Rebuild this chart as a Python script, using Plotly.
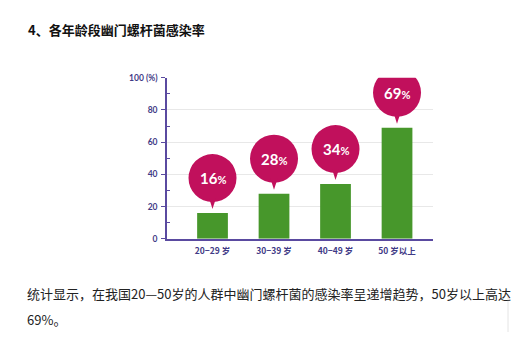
import plotly.graph_objects as go

title_text = "4、各年龄段幽门螺杆菌感染率"
categories = ["20−29 岁", "30−39 岁", "40−49 岁", "50 岁以上"]
values = [16, 28, 34, 69]
y_ticks = [0, 20, 40, 60, 80, 100]
y_ticklabels = ["0", "20", "40", "60", "80", "100 (%)"]
para_line1 = "统计显示，在我国20—50岁的人群中幽门螺杆菌的感染率呈递增趋势，50岁以上高达"
para_line2 = "69%。"

W, H = 518, 337
BAR = "#47972b"
BUB = "#c1105c"
AX = "#5a4aa0"
TXT = "#3f3a86"
CJK = "Noto Sans CJK SC"

xs = list(range(len(categories)))

fig = go.Figure()
fig.add_trace(go.Bar(x=xs, y=values, width=0.5, marker=dict(color=BAR, line=dict(width=0)),
                     hoverinfo="skip"))

shapes = []
annotations = []
for i, v in zip(xs, values):
    shapes.append(dict(type="circle", xref="x", yref="y", xsizemode="pixel", ysizemode="pixel",
                       xanchor=i, yanchor=v, x0=-24, x1=24, y0=11, y1=59,
                       fillcolor=BUB, line=dict(width=0), layer="above"))
    shapes.append(dict(type="path", xref="x", yref="y", xsizemode="pixel", ysizemode="pixel",
                       xanchor=i, yanchor=v, path="M-3.5,15 L3.5,15 L0,4 Z",
                       fillcolor=BUB, line=dict(width=0), layer="above"))
    annotations.append(dict(x=i, y=v, xref="x", yref="y", yshift=35, showarrow=False,
                            text=f"<b>{v}</b><span style='font-size:11px'><b>%</b></span>",
                            font=dict(family="Lato, Open Sans, sans-serif", size=15, color="white"),
                            xanchor="center", yanchor="middle"))

annotations.append(dict(x=26 / W, y=1 - 25 / H, xref="paper", yref="paper", showarrow=False,
                        xanchor="left", yanchor="middle", text=f"<b>{title_text}</b>",
                        font=dict(family=CJK, size=13, color="#111111")))
annotations.append(dict(x=25 / W, y=1 - 297 / H, xref="paper", yref="paper", showarrow=False,
                        xanchor="left", yanchor="middle", text=para_line1,
                        font=dict(family=CJK, size=13, color="#222222")))
annotations.append(dict(x=25 / W, y=1 - 324 / H, xref="paper", yref="paper", showarrow=False,
                        xanchor="left", yanchor="middle", text=para_line2,
                        font=dict(family=CJK, size=13, color="#222222")))
shapes.append(dict(type="line", xref="paper", yref="paper", x0=508 / W, x1=508 / W,
                   y0=0, y1=1 - 300 / H, line=dict(color="#e4e4e4", width=1)))

fig.update_layout(
    width=W, height=H, margin=dict(l=0, r=0, t=0, b=0),
    paper_bgcolor="white", plot_bgcolor="white", showlegend=False,
    shapes=shapes, annotations=annotations,
    xaxis=dict(domain=[167 / W, 433 / W], range=[-0.74, 3.585],
               tickmode="array", tickvals=xs, ticktext=[f"<b>{c}</b>" for c in categories],
               tickfont=dict(family=CJK, size=8.5, color=TXT), ticklabelstandoff=3,
               showline=True, linecolor=AX, linewidth=1.5, ticks="", showgrid=False,
               zeroline=False, fixedrange=True),
    yaxis=dict(domain=[1 - 241 / H, 1 - 75 / H], range=[0, 100],
               tickmode="array", tickvals=y_ticks, ticktext=[f"<b>{t}</b>" for t in y_ticklabels],
               tickfont=dict(family="Lato, sans-serif", size=8.5, color=TXT), ticklabelstandoff=2,
               showline=True, linecolor=AX, linewidth=1.5,
               ticks="outside", ticklen=4, tickcolor=AX, tickwidth=1,
               minor=dict(tickvals=[10, 30, 50, 70, 90], ticks="inside", ticklen=3, tickcolor=AX, showgrid=False),
               showgrid=True, gridcolor="#e8e8e8", gridwidth=1, zeroline=False, fixedrange=True),
)

fig.write_html("out.html")
